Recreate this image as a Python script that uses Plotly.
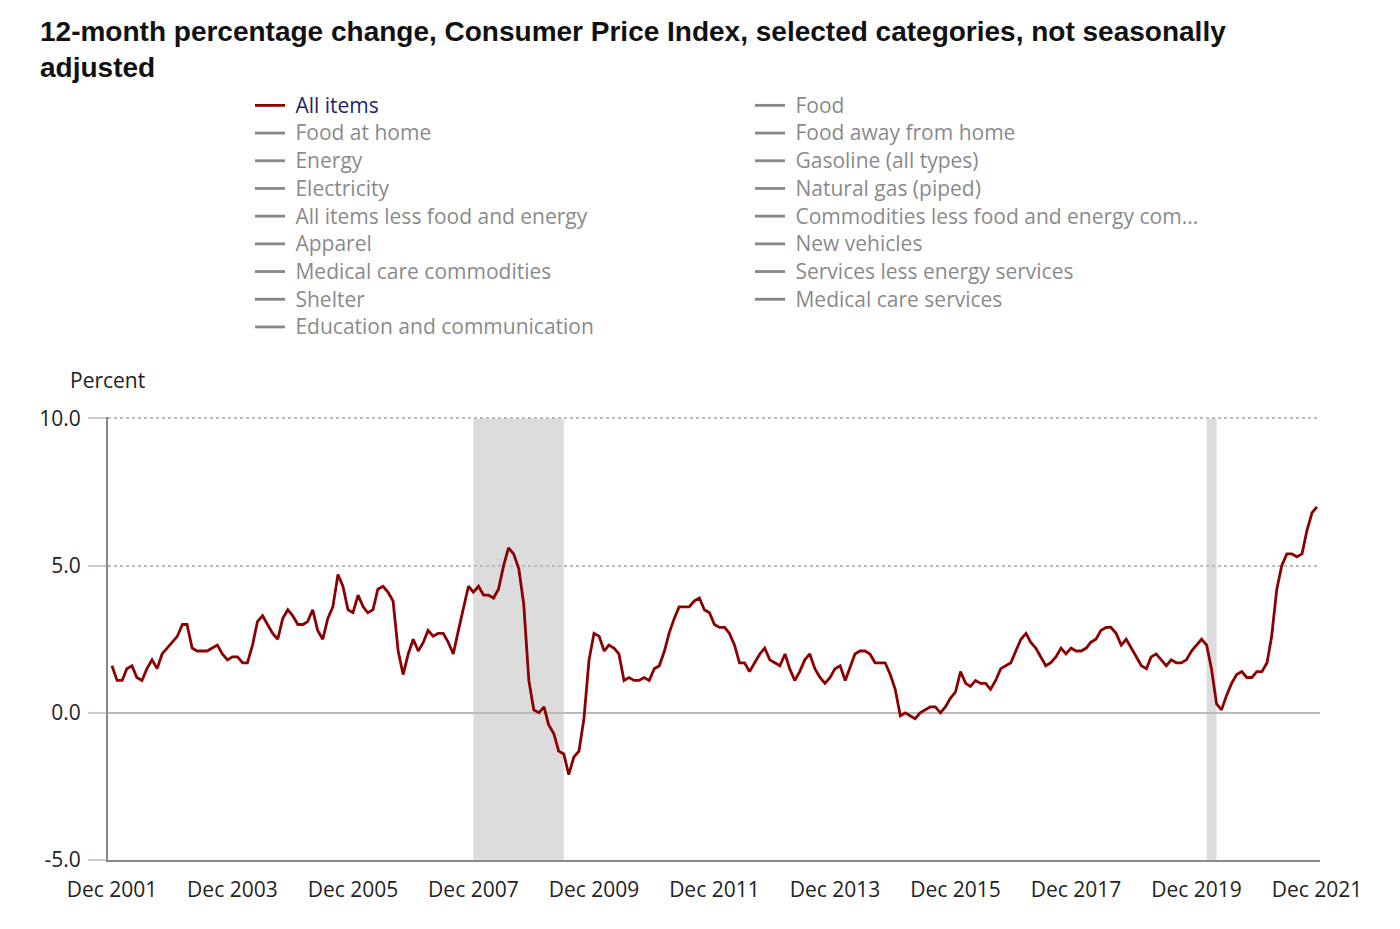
import pandas as pd
import plotly.graph_objects as go

# 12-month percent change, CPI all items, Dec 2001 - Dec 2021
months = pd.date_range("2001-12-01", "2021-12-01", freq="MS")
all_items = [
    1.6,
    1.1, 1.1, 1.5, 1.6, 1.2, 1.1, 1.5, 1.8, 1.5, 2.0, 2.2, 2.4,
    2.6, 3.0, 3.0, 2.2, 2.1, 2.1, 2.1, 2.2, 2.3, 2.0, 1.8, 1.9,
    1.9, 1.7, 1.7, 2.3, 3.1, 3.3, 3.0, 2.7, 2.5, 3.2, 3.5, 3.3,
    3.0, 3.0, 3.1, 3.5, 2.8, 2.5, 3.2, 3.6, 4.7, 4.3, 3.5, 3.4,
    4.0, 3.6, 3.4, 3.5, 4.2, 4.3, 4.1, 3.8, 2.1, 1.3, 2.0, 2.5,
    2.1, 2.4, 2.8, 2.6, 2.7, 2.7, 2.4, 2.0, 2.8, 3.5, 4.3, 4.1,
    4.3, 4.0, 4.0, 3.9, 4.2, 5.0, 5.6, 5.4, 4.9, 3.7, 1.1, 0.1,
    0.0, 0.2, -0.4, -0.7, -1.3, -1.4, -2.1, -1.5, -1.3, -0.2, 1.8, 2.7,
    2.6, 2.1, 2.3, 2.2, 2.0, 1.1, 1.2, 1.1, 1.1, 1.2, 1.1, 1.5,
    1.6, 2.1, 2.7, 3.2, 3.6, 3.6, 3.6, 3.8, 3.9, 3.5, 3.4, 3.0,
    2.9, 2.9, 2.7, 2.3, 1.7, 1.7, 1.4, 1.7, 2.0, 2.2, 1.8, 1.7,
    1.6, 2.0, 1.5, 1.1, 1.4, 1.8, 2.0, 1.5, 1.2, 1.0, 1.2, 1.5,
    1.6, 1.1, 1.5, 2.0, 2.1, 2.1, 2.0, 1.7, 1.7, 1.7, 1.3, 0.8,
    -0.1, 0.0, -0.1, -0.2, 0.0, 0.1, 0.2, 0.2, 0.0, 0.2, 0.5, 0.7,
    1.4, 1.0, 0.9, 1.1, 1.0, 1.0, 0.8, 1.1, 1.5, 1.6, 1.7, 2.1,
    2.5, 2.7, 2.4, 2.2, 1.9, 1.6, 1.7, 1.9, 2.2, 2.0, 2.2, 2.1,
    2.1, 2.2, 2.4, 2.5, 2.8, 2.9, 2.9, 2.7, 2.3, 2.5, 2.2, 1.9,
    1.6, 1.5, 1.9, 2.0, 1.8, 1.6, 1.8, 1.7, 1.7, 1.8, 2.1, 2.3,
    2.5, 2.3, 1.5, 0.3, 0.1, 0.6, 1.0, 1.3, 1.4, 1.2, 1.2, 1.4,
    1.4, 1.7, 2.6, 4.2, 5.0, 5.4, 5.4, 5.3, 5.4, 6.2, 6.8, 7.0,
]

# other categories are listed in the legend but switched off
hidden_series = [
    "Food", "Food at home", "Food away from home", "Energy",
    "Gasoline (all types)", "Electricity", "Natural gas (piped)",
    "All items less food and energy", "Commodities less food and energy com...",
    "Apparel", "New vehicles", "Medical care commodities",
    "Services less energy services", "Shelter", "Medical care services",
    "Education and communication",
]

# recession periods (shaded)
recession_start = ["2007-12-01", "2020-02-01"]
recession_end = ["2009-06-01", "2020-04-01"]

tick_dates = pd.date_range("2001-12-01", "2021-12-01", freq="24MS")
tick_labels = [d.strftime("Dec %Y") for d in tick_dates]

W, H = 1384, 913  # page has an 8px body margin


def legend_label(text, color=None):
    style = "font-size:21px"
    if color:
        style += f";color:{color}"
    return f'<span style="{style}">&nbsp;{text}</span>'


fig = go.Figure()

fig.add_trace(go.Scatter(
    x=months, y=all_items, mode="lines", name=legend_label("All items"),
    line=dict(color="#8B0000", width=2.8),
))
for name in hidden_series:
    # no values shown: series is toggled off
    fig.add_trace(go.Scatter(
        x=months, y=[None] * len(months), mode="lines", visible="legendonly",
        name=legend_label(name, "#111111"),
        line=dict(color="#111111", width=2.8),
    ))

for s, e in zip(recession_start, recession_end):
    fig.add_shape(type="rect", xref="x", yref="y", x0=s, x1=e, y0=-5, y1=10,
                  fillcolor="#DCDCDC", line_width=0, layer="below")

fig.update_layout(
    width=W, height=H,
    paper_bgcolor="white", plot_bgcolor="white",
    margin=dict(l=100, r=72, t=409, b=61),
    font=dict(family="Open Sans, sans-serif", size=21, color="#222"),
    title=dict(
        text="<b>12-month percentage change, Consumer Price Index, selected categories, not seasonally<br>adjusted</b>",
        x=32 / W, xanchor="left", xref="container",
        y=1 - 33 / H, yanchor="middle", yref="container",
        font=dict(family="Liberation Sans, Arial, sans-serif", size=28, color="#111"),
    ),
    legend=dict(
        orientation="h", entrywidth=455, entrywidthmode="pixels",
        x=242 / W, xref="container", xanchor="left",
        y=1 - 78.5 / H, yref="container", yanchor="top",
        font=dict(size=19, color="#1f1f6b"),
        itemclick=False, itemdoubleclick=False,
        tracegroupgap=0,
    ),
    showlegend=True,
    annotations=[dict(
        text="Percent", xref="paper", yref="paper",
        x=-40 / 1212, y=1 + 37 / 443, xanchor="left", yanchor="middle",
        showarrow=False, font=dict(size=21, color="#222"),
    )],
)

fig.update_xaxes(
    type="date",
    range=["2001-11-07", "2021-12-19"],
    tickvals=tick_dates, ticktext=tick_labels,
    showgrid=False, showline=True, linecolor="#888", linewidth=2,
    ticks="", ticklabelstandoff=10, tickfont=dict(size=21, color="#222"),
)
fig.update_yaxes(
    range=[-5, 10.05], tickvals=[-5, 0, 5, 10],
    ticktext=["-5.0", "0.0", "5.0", "10.0"],
    showgrid=True, gridcolor="#BBBBBB", griddash="dot", gridwidth=1.5,
    zeroline=True, zerolinecolor="#BBBBBB", zerolinewidth=1.5,
    showline=True, linecolor="#888", linewidth=2,
    ticks="outside", ticklen=18, tickcolor="#CCCCCC", tickwidth=2,
    ticklabelstandoff=3, tickfont=dict(size=21, color="#222"),
)

fig.write_html("out.html")
